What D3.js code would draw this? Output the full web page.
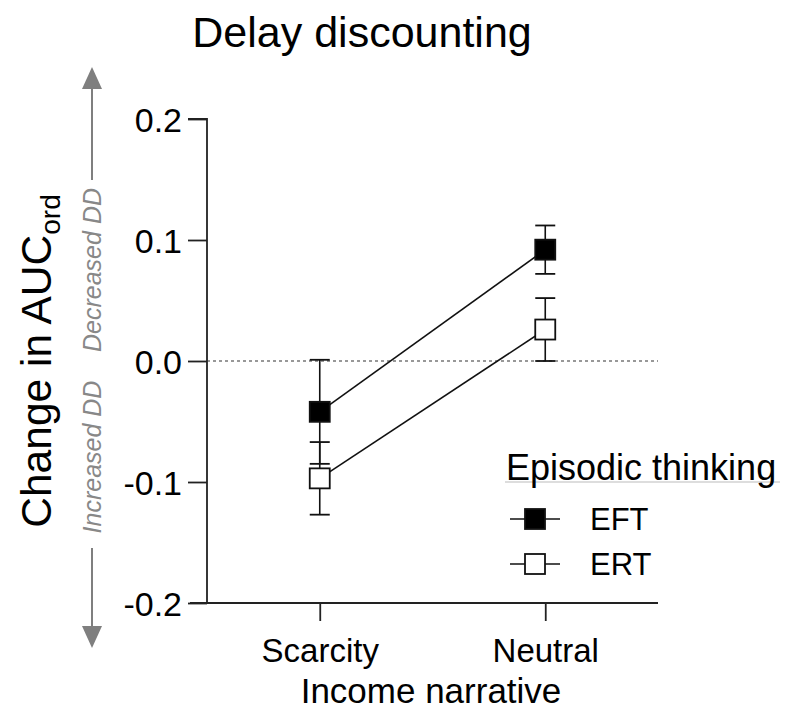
<!DOCTYPE html>
<html>
<head>
<meta charset="utf-8">
<script src="https://cdn.jsdelivr.net/npm/d3@7"></script>
<style>
  body { margin: 0; background: #fff; }
  text { font-family: "Liberation Sans", Arial, sans-serif; }
</style>
</head>
<body>
<svg id="chart" width="786" height="715"></svg>
<script>
// Data
const narratives = ["Scarcity", "Neutral"];
const groups = ["EFT", "ERT"];
const eftMean = [-0.042, 0.092];
const eftSE = [0.043, 0.020];
const ertMean = [-0.097, 0.026];
const ertSE = [0.030, 0.026];
const yTicks = [-0.2, -0.1, 0.0, 0.1, 0.2];

const series = [
    { name: "EFT", mean: eftMean, se: eftSE, fill: "#000" },
    { name: "ERT", mean: ertMean, se: ertSE, fill: "#fff" }
];

const svg = d3.select("#chart");

// Scales
const x = d3.scalePoint().domain(narratives).range([207, 658]).padding(0.5);
const y = d3.scaleLinear().domain([-0.2, 0.2]).range([603, 119]);

// Title
svg.append("text")
    .attr("x", 362).attr("y", 47)
    .attr("text-anchor", "middle")
    .attr("font-size", 43)
    .text("Delay discounting");

// Y axis
const yAxis = svg.append("g")
    .attr("transform", "translate(207,0)")
    .call(d3.axisLeft(y).tickValues(yTicks).tickSize(19).tickPadding(6)
        .tickFormat(d => d.toFixed(1)));
yAxis.select(".domain").attr("d", `M-19,${y(0.2)}H0V${y(-0.2)}`);
yAxis.selectAll("line, path").attr("stroke", "#222").attr("stroke-width", 1.8);
yAxis.selectAll("text").attr("font-size", 34).attr("font-family", "Liberation Sans, Arial, sans-serif")
    .attr("dy", "0.36em").attr("fill", "#000");

// X axis
const xAxis = svg.append("g")
    .attr("transform", `translate(0,${y(-0.2)})`)
    .call(d3.axisBottom(x).tickSize(18).tickPadding(18));
xAxis.select(".domain").attr("d", `M190,0H658`);
xAxis.selectAll("line, path").attr("stroke", "#222").attr("stroke-width", 1.8);
xAxis.selectAll("text").attr("font-size", 33).attr("font-family", "Liberation Sans, Arial, sans-serif")
    .attr("fill", "#000");

// Axis titles
svg.append("text")
    .attr("x", 431).attr("y", 703)
    .attr("text-anchor", "middle")
    .attr("font-size", 35)
    .text("Income narrative");

const yTitle = svg.append("text")
    .attr("transform", `translate(51,${y(0)}) rotate(-90)`)
    .attr("text-anchor", "middle")
    .attr("font-size", 42.5);
yTitle.append("tspan").text("Change in AUC");
yTitle.append("tspan").attr("font-size", 28).attr("dy", 9).text("ord");

// Direction arrows
const grey = "#7f7f7f";
const arrowHead = (x0, yBase, dir) => {
    svg.append("path")
        .attr("d", `M${x0 - 10},${yBase}L${x0 + 10},${yBase}L${x0},${yBase + dir * 22}Z`)
        .attr("fill", grey);
};
svg.append("line").attr("x1", 92).attr("x2", 92).attr("y1", 88).attr("y2", 180)
    .attr("stroke", grey).attr("stroke-width", 2);
arrowHead(92, 89, -1);
svg.append("line").attr("x1", 92).attr("x2", 92).attr("y1", 548).attr("y2", 627)
    .attr("stroke", grey).attr("stroke-width", 2);
arrowHead(92, 626, 1);

const dirLabel = (text, cy) => svg.append("text")
    .attr("transform", `translate(101,${cy}) rotate(-90)`)
    .attr("text-anchor", "middle")
    .attr("font-family", "Roboto, sans-serif")
    .attr("font-style", "italic")
    .attr("font-size", 25)
    .attr("fill", "#888")
    .text(text);
dirLabel("Decreased DD", (188 + 352) / 2);
dirLabel("Increased DD", (374 + 540) / 2);

// Zero reference line
svg.append("line")
    .attr("x1", 207).attr("x2", 658)
    .attr("y1", y(0)).attr("y2", y(0))
    .attr("stroke", "#333").attr("stroke-width", 1.2)
    .attr("stroke-dasharray", "3,3");

// Series
const line = d3.line().x((d, i) => x(narratives[i])).y(d => y(d));
const plot = svg.append("g");
series.forEach(s => {
    plot.append("path")
        .attr("d", line(s.mean))
        .attr("fill", "none")
        .attr("stroke", "#111").attr("stroke-width", 1.6);
});
series.forEach(s => {
    const g = plot.append("g");
    narratives.forEach((n, i) => {
        const cx = x(n), m = s.mean[i], e = s.se[i];
        g.append("line").attr("x1", cx).attr("x2", cx)
            .attr("y1", y(m + e)).attr("y2", y(m - e))
            .attr("stroke", "#111").attr("stroke-width", 1.6);
        [m + e, m - e].forEach(v => {
            g.append("line").attr("x1", cx - 10).attr("x2", cx + 10)
                .attr("y1", y(v)).attr("y2", y(v))
                .attr("stroke", "#111").attr("stroke-width", 1.8);
        });
    });
});
series.forEach(s => {
    plot.append("g").selectAll("rect")
        .data(s.mean)
        .join("rect")
        .attr("x", (d, i) => x(narratives[i]) - 10)
        .attr("y", d => y(d) - 10)
        .attr("width", 20).attr("height", 20)
        .attr("fill", s.fill)
        .attr("stroke", "#111").attr("stroke-width", 1.8);
});

// Legend
const legend = svg.append("g");
legend.append("line")
    .attr("x1", 505).attr("x2", 780).attr("y1", 482).attr("y2", 482)
    .attr("stroke", "#bbb").attr("stroke-width", 1);
legend.append("text")
    .attr("x", 506).attr("y", 480)
    .attr("font-size", 36)
    .text("Episodic thinking");
series.forEach((s, i) => {
    const cy = 519 + i * 45;
    legend.append("line").attr("x1", 510).attr("x2", 560).attr("y1", cy).attr("y2", cy)
        .attr("stroke", "#111").attr("stroke-width", 1.6);
    legend.append("rect").attr("x", 525).attr("y", cy - 10)
        .attr("width", 20).attr("height", 20)
        .attr("fill", s.fill).attr("stroke", "#111").attr("stroke-width", 1.8);
    legend.append("text").attr("x", 590).attr("y", cy + 11)
        .attr("font-size", 31)
        .text(groups[i]);
});
</script>
</body>
</html>
